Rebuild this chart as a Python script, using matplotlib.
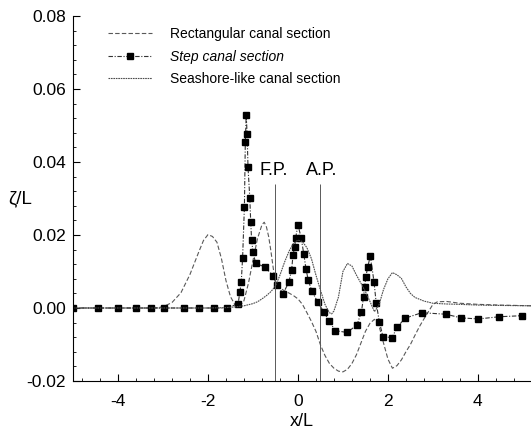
import matplotlib
matplotlib.use("Agg")
import matplotlib.pyplot as plt
from matplotlib.ticker import MultipleLocator, FormatStrFormatter

plt.rcParams['font.family'] = ['Liberation Sans', 'DejaVu Sans']
plt.rcParams['axes.unicode_minus'] = False

# rectangular canal section (dashed)
x_rect = [-5.0, -3.2, -3.0, -2.8, -2.6, -2.4, -2.2, -2.1, -2.0, -1.9, -1.8, -1.7,
          -1.6, -1.5, -1.4, -1.3, -1.2, -1.1, -1.0, -0.9, -0.8, -0.75, -0.7, -0.65,
          -0.6, -0.55, -0.5, -0.4, -0.3, -0.2, -0.1, 0.0, 0.1, 0.2, 0.3, 0.4, 0.5,
          0.6, 0.7, 0.8, 0.9, 1.0, 1.1, 1.2, 1.3, 1.4, 1.5, 1.6, 1.7, 1.8, 1.9, 2.0,
          2.1, 2.2, 2.3, 2.4, 2.5, 2.6, 2.7, 2.8, 2.9, 3.0, 3.1, 3.3, 3.6, 4.0, 4.5, 5.2]
y_rect = [0.0, 0.0, 0.0003, 0.0015, 0.0042, 0.0092, 0.0155, 0.0185, 0.0201, 0.0196,
          0.0180, 0.0135, 0.0075, 0.0031, 0.0009, 0.0004, 0.0020, 0.0068, 0.0130,
          0.0190, 0.0228, 0.0235, 0.0222, 0.0195, 0.0155, 0.0110, 0.0068, 0.0055,
          0.0047, 0.0041, 0.0034, 0.0025, 0.0010, -0.0013, -0.0037, -0.0064, -0.0101,
          -0.0130, -0.0152, -0.0165, -0.0173, -0.0175, -0.0168, -0.0152, -0.0128,
          -0.0096, -0.0064, -0.0042, -0.0031, -0.0048, -0.0095, -0.0140, -0.0165,
          -0.0158, -0.0142, -0.0120, -0.0100, -0.0075, -0.0051, -0.0030, -0.0010,
          0.0010, 0.0017, 0.0018, 0.0013, 0.0010, 0.0008, 0.0006]

# step canal section (dash-dot with squares)
x_step = [-5.0, -4.45, -4.0, -3.59, -3.26, -2.97, -2.53, -2.2, -1.87, -1.57, -1.33,
          -1.29, -1.26, -1.23, -1.19, -1.17, -1.15, -1.13, -1.11, -1.07, -1.05, -1.03,
          -1.0, -0.94, -0.74, -0.56, -0.46, -0.33, -0.2, -0.14, -0.11, -0.07, -0.05,
          0.0, 0.07, 0.13, 0.18, 0.23, 0.31, 0.44, 0.57, 0.69, 0.83, 1.09, 1.31, 1.41,
          1.46, 1.48, 1.51, 1.55, 1.61, 1.69, 1.74, 1.81, 1.89, 2.09, 2.21, 2.38, 2.75,
          3.29, 3.62, 4.01, 4.47, 4.99]
y_step = [0.0, 0.0, 0.0, 0.0, 0.0, 0.0, 0.0, 0.0, 0.0, 0.0, 0.0012, 0.0044, 0.0072,
          0.0138, 0.0278, 0.0454, 0.0529, 0.0477, 0.0385, 0.0301, 0.0236, 0.0186,
          0.0154, 0.0122, 0.0113, 0.0089, 0.0063, 0.0039, 0.0072, 0.0105, 0.0145,
          0.0168, 0.0193, 0.0228, 0.0193, 0.0148, 0.0106, 0.0076, 0.0046, 0.0016,
          -0.0010, -0.0035, -0.0062, -0.0067, -0.0047, -0.0011, 0.0031, 0.0057,
          0.0085, 0.0113, 0.0142, 0.0072, 0.0013, -0.0038, -0.0079, -0.0081, -0.0052,
          -0.0028, -0.0013, -0.0017, -0.0027, -0.0030, -0.0024, -0.0021]

# seashore-like canal section (dotted)
x_sea = [-5.0, -2.0, -1.6, -1.4, -1.2, -1.0, -0.9, -0.8, -0.7, -0.6, -0.5, -0.4,
         -0.3, -0.2, -0.1, 0.0, 0.1, 0.2, 0.3, 0.4, 0.5, 0.6, 0.7, 0.75, 0.8, 0.9,
         1.0, 1.1, 1.2, 1.3, 1.4, 1.5, 1.6, 1.7, 1.8, 1.9, 2.0, 2.1, 2.2, 2.3, 2.4,
         2.5, 2.6, 2.8, 3.0, 3.3, 3.6, 4.0, 4.5, 5.2]
y_sea = [0.0, 0.0, 0.0001, 0.0003, 0.0006, 0.0012, 0.0017, 0.0025, 0.0034, 0.0045,
         0.0060, 0.0090, 0.0125, 0.0155, 0.0177, 0.0186, 0.0182, 0.0165, 0.0135,
         0.0090, 0.0049, 0.0010, -0.0013, -0.0016, -0.0008, 0.0030, 0.0100, 0.0122,
         0.0115, 0.0090, 0.0068, 0.0045, 0.0018, -0.0010, 0.0008, 0.0050, 0.0080,
         0.0097, 0.0091, 0.0081, 0.0058, 0.0040, 0.0029, 0.0019, 0.0013, 0.0011,
         0.0010, 0.0008, 0.0007, 0.0006]

fig = plt.figure(figsize=(5.31, 4.30), dpi=100)
ax = fig.add_axes([73/531, 49/430, 1 - 73/531, 365/430])

ax.plot(x_rect, y_rect, color='0.35', lw=0.8, ls=(0, (4, 2)),
        label='Rectangular canal section')
ax.plot(x_step, y_step, color='0.2', lw=0.8, ls=(0, (4, 1.5, 1, 1.5)),
        marker='s', ms=4, mfc='k', mec='k', label='Step canal section')
ax.plot(x_sea, y_sea, color='0.3', lw=0.8, ls=(0, (1.5, 0.7)),
        label='Seashore-like canal section')

# F.P. / A.P. marks
ax.vlines([-0.5, 0.5], -0.02, 0.034, color='0.35', lw=0.7)
ax.text(-0.53, 0.0377, 'F.P.', ha='center', va='center', fontsize=13)
ax.text(0.53, 0.0377, 'A.P.', ha='center', va='center', fontsize=13)

ax.set_xlim(-5, 5.18)
ax.set_ylim(-0.02, 0.08)
ax.spines['top'].set_visible(False)
ax.spines['right'].set_visible(False)
ax.xaxis.set_major_locator(MultipleLocator(2))
ax.xaxis.set_minor_locator(MultipleLocator(0.4))
ax.yaxis.set_major_locator(MultipleLocator(0.02))
ax.yaxis.set_minor_locator(MultipleLocator(0.004))
ax.yaxis.set_major_formatter(FormatStrFormatter('%.2f'))
ax.tick_params(which='both', direction='in', labelsize=12.5)
ax.tick_params(which='major', length=5, width=0.8)
ax.tick_params(which='minor', length=2.5, width=0.6)
ax.tick_params(axis='x', pad=9)
ax.tick_params(axis='y', pad=5)

fig.text(302/531, 1 - 421/430, 'x/L', ha='center', va='center', fontsize=13)
fig.text(20/531, 1 - 199/430, 'ζ/L', ha='center', va='center', fontsize=13.5)

leg = ax.legend(loc='upper left', bbox_to_anchor=(108/531, 1 - 27/430),
                bbox_transform=fig.transFigure, frameon=False, fontsize=10,
                handlelength=3.2, handletextpad=1.3, labelspacing=0.62,
                borderaxespad=0, borderpad=0)
leg.get_texts()[1].set_style('italic')

fig.savefig('out.png', dpi=100)
